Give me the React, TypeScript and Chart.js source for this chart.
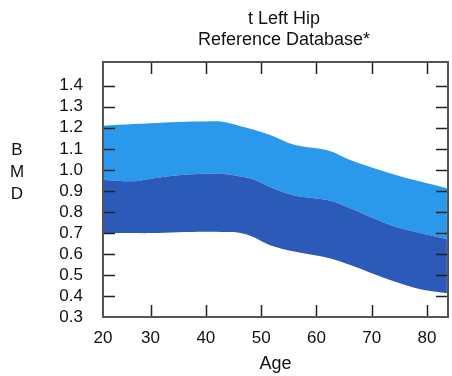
import React, { useEffect, useRef } from "react";
import { Chart, registerables } from "chart.js";

Chart.register(...registerables);

const titleLines = ["t Left Hip", "Reference Database*"];
const yAxisLetters = ["B", "M", "D"];
const xAxisTitle = "Age";

const ages = [21.4, 27, 30, 35, 40, 43, 46, 48.5, 51.5, 56, 62.4, 66, 73.3, 78.8, 83.6];
const upperBMD = [1.21, 1.218, 1.222, 1.228, 1.23, 1.229, 1.21, 1.192, 1.167, 1.119, 1.09, 1.048, 0.984, 0.944, 0.913];
const meanBMD = [0.952, 0.946, 0.958, 0.974, 0.981, 0.98, 0.97, 0.955, 0.92, 0.878, 0.854, 0.818, 0.738, 0.699, 0.67];
const lowerBMD = [0.699, 0.699, 0.699, 0.703, 0.705, 0.704, 0.701, 0.682, 0.643, 0.611, 0.58, 0.548, 0.476, 0.432, 0.413];

const xTickValues = [21.4, 30, 40, 50, 60, 70, 80];
const xTickLabels = ["20", "30", "40", "50", "60", "70", "80"];
const yTickValues = [0.3, 0.4, 0.5, 0.6, 0.7, 0.8, 0.9, 1.0, 1.1, 1.2, 1.3, 1.4];

const X_MIN = 21.4;
const X_MAX = 83.8;
const Y_MIN = 0.3;
const Y_MAX = 1.513;

const FONT = "'Liberation Sans', Arial, Helvetica, sans-serif";
const LIGHT = "#2A99EB";
const DARK = "#2C5AB8";

const framePlugin = {
  id: "frame",
  afterDatasetsDraw(chart: any) {
    const { ctx, chartArea } = chart;
    const { left, right, top, bottom } = chartArea;
    const xs = chart.scales.x;
    const ys = chart.scales.y;
    ctx.save();
    ctx.strokeStyle = "#222";
    ctx.lineWidth = 1.5;
    const tl = 12;
    ctx.beginPath();
    xs.ticks.forEach((t: any) => {
      const px = Math.round(xs.getPixelForValue(t.value)) + 0.5;
      if (px <= left + 2 || px >= right - 2) return;
      ctx.moveTo(px, bottom);
      ctx.lineTo(px, bottom - tl);
      ctx.moveTo(px, top);
      ctx.lineTo(px, top + tl);
    });
    ys.ticks.forEach((t: any) => {
      const py = Math.round(ys.getPixelForValue(t.value)) + 0.5;
      if (py >= bottom - 2 || py <= top + 2) return;
      ctx.moveTo(left, py);
      ctx.lineTo(left + tl, py);
      ctx.moveTo(right, py);
      ctx.lineTo(right - tl, py);
    });
    ctx.stroke();
    ctx.strokeStyle = "#555";
    ctx.lineWidth = 2;
    ctx.strokeRect(left, top, right - left, bottom - top);
    ctx.restore();
  },
  afterDraw(chart: any) {
    const { ctx } = chart;
    ctx.save();
    ctx.fillStyle = "#111";
    ctx.textAlign = "center";
    ctx.textBaseline = "middle";
    ctx.font = `18px ${FONT}`;
    ctx.fillText(titleLines[0], 284, 19);
    ctx.fillText(titleLines[1], 284, 40);
    ctx.font = `17px ${FONT}`;
    yAxisLetters.forEach((l, i) => {
      ctx.fillText(l, 17, 150 + i * 22);
    });
    ctx.restore();
  },
};

export default function App() {
  const ref = useRef<HTMLCanvasElement>(null);
  useEffect(() => {
    if (!ref.current) return;
    const mk = (arr: number[]) => ages.map((a, i) => ({ x: a, y: arr[i] }));
    const common = {
      borderWidth: 0,
      pointRadius: 0,
      borderColor: "rgba(0,0,0,0)",
      tension: 0.35,
    };
    const chart = new Chart(ref.current, {
      type: "line",
      data: {
        datasets: [
          { label: "lower", data: mk(lowerBMD), fill: false, ...common },
          { label: "mean", data: mk(meanBMD), fill: "-1", backgroundColor: DARK, ...common },
          { label: "upper", data: mk(upperBMD), fill: "-1", backgroundColor: LIGHT, ...common },
        ],
      },
      options: {
        animation: false,
        responsive: true,
        maintainAspectRatio: false,
        devicePixelRatio: 1,
        layout: { padding: { left: 0, right: 4, top: 62, bottom: 0 } },
        plugins: {
          legend: { display: false },
          tooltip: { enabled: false },
          title: { display: false },
        },
        scales: {
          x: {
            type: "linear",
            min: X_MIN,
            max: X_MAX,
            afterBuildTicks: (s: any) => {
              s.ticks = xTickValues.map((v) => ({ value: v }));
            },
            afterFit: (s: any) => {
              s.height = 59;
            },
            grid: { display: false, drawTicks: false },
            border: { display: false },
            ticks: {
              autoSkip: false,
              maxRotation: 0,
              padding: 11,
              color: "#111",
              font: { family: FONT, size: 17 },
              callback: (_v: any, i: number) => xTickLabels[i],
            },
            title: {
              display: true,
              text: xAxisTitle,
              color: "#111",
              font: { family: FONT, size: 18 },
              padding: { top: 0, bottom: 1 },
            },
          },
          y: {
            type: "linear",
            min: Y_MIN,
            max: Y_MAX,
            afterBuildTicks: (s: any) => {
              s.ticks = yTickValues.map((v) => ({ value: v }));
            },
            afterFit: (s: any) => {
              s.width = 103;
            },
            grid: { display: false, drawTicks: false },
            border: { display: false },
            ticks: {
              autoSkip: false,
              padding: 20,
              color: "#111",
              font: { family: FONT, size: 17 },
              callback: (v: any) => Number(v).toFixed(1),
            },
          },
        },
      },
      plugins: [framePlugin],
    } as any);
    return () => chart.destroy();
  }, []);
  return (
    <div style={{ position: "absolute", left: 0, top: 0, width: 452, height: 376, background: "#fff" }}>
      <canvas ref={ref} />
    </div>
  );
}
